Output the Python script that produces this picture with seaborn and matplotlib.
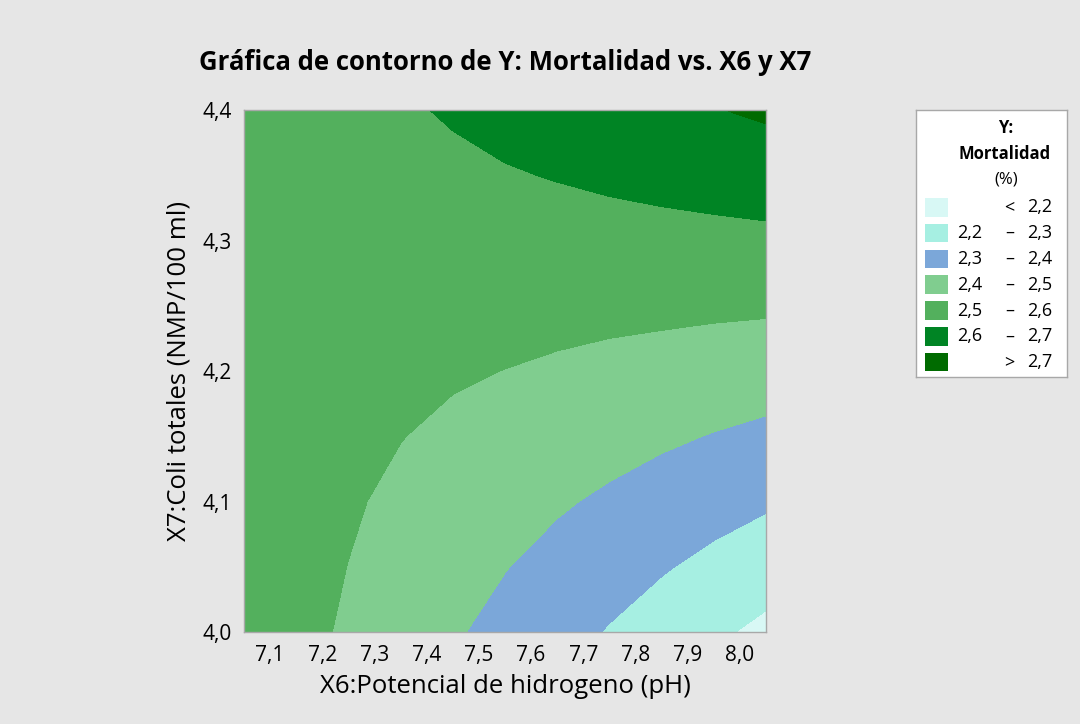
import numpy as np
import matplotlib
matplotlib.use("Agg")
import matplotlib.pyplot as plt
import seaborn as sns
from matplotlib.patches import Rectangle

# X6: pH grid, X7: coli totales grid
ph = [7.05, 7.15, 7.25, 7.35, 7.45, 7.55, 7.65, 7.75, 7.85, 7.95, 8.05]
coli = [4.00, 4.05, 4.10, 4.15, 4.20, 4.25, 4.30, 4.35, 4.40]

# mortalidad (%), one row per coli value
mortalidad = [
    [2.566, 2.527, 2.488, 2.449, 2.410, 2.372, 2.333, 2.294, 2.255, 2.216, 2.178],
    [2.562, 2.530, 2.499, 2.467, 2.435, 2.403, 2.372, 2.340, 2.308, 2.276, 2.245],
    [2.559, 2.534, 2.509, 2.484, 2.460, 2.435, 2.410, 2.386, 2.361, 2.336, 2.312],
    [2.555, 2.537, 2.520, 2.502, 2.484, 2.467, 2.449, 2.432, 2.414, 2.396, 2.379],
    [2.552, 2.541, 2.530, 2.520, 2.509, 2.499, 2.488, 2.477, 2.467, 2.456, 2.446],
    [2.548, 2.545, 2.541, 2.537, 2.534, 2.530, 2.527, 2.523, 2.520, 2.516, 2.513],
    [2.545, 2.548, 2.552, 2.555, 2.559, 2.562, 2.566, 2.569, 2.573, 2.576, 2.580],
    [2.541, 2.552, 2.562, 2.573, 2.583, 2.594, 2.604, 2.615, 2.625, 2.636, 2.647],
    [2.538, 2.555, 2.573, 2.590, 2.608, 2.626, 2.643, 2.661, 2.678, 2.696, 2.714],
]

levels = [2.0, 2.2, 2.3, 2.4, 2.5, 2.6, 2.7, 3.0]
colors = ["#D8F8F5", "#A6EFE2", "#7BA7D9", "#80CD8F", "#53B05D", "#008424", "#006B00"]
legend_lo = ["", "2,2", "2,3", "2,4", "2,5", "2,6", ""]
legend_sep = ["<", "\u2013", "\u2013", "\u2013", "\u2013", "\u2013", ">"]
legend_hi = ["2,2", "2,3", "2,4", "2,5", "2,6", "2,7", "2,7"]

xticks = [7.1, 7.2, 7.3, 7.4, 7.5, 7.6, 7.7, 7.8, 7.9, 8.0]
xticklabels = ["7,1", "7,2", "7,3", "7,4", "7,5", "7,6", "7,7", "7,8", "7,9", "8,0"]
yticks = [4.0, 4.1, 4.2, 4.3, 4.4]
yticklabels = ["4,0", "4,1", "4,2", "4,3", "4,4"]

sns.set_theme(style="white")
plt.rcParams["font.family"] = ["Open Sans", "DejaVu Sans"]
plt.rcParams["text.color"] = "black"
plt.rcParams["axes.labelcolor"] = "black"
plt.rcParams["xtick.labelcolor"] = "black"
plt.rcParams["ytick.labelcolor"] = "black"

fig = plt.figure(figsize=(10.8, 7.24), dpi=100, facecolor="#E6E6E6")
ax = fig.add_axes([244 / 1080, 1 - 632 / 724, 522 / 1080, 522 / 724])

X, Y = np.meshgrid(ph, coli)
ax.contourf(X, Y, np.array(mortalidad), levels=levels, colors=colors)

ax.set_xlim(7.05, 8.05)
ax.set_ylim(4.0, 4.4)
ax.set_xticks(xticks)
ax.set_xticklabels(xticklabels, fontsize=15)
ax.set_yticks(yticks)
ax.set_yticklabels(yticklabels, fontsize=15)
ax.tick_params(axis="both", direction="out", length=5, width=1, color="#9A9A9A", pad=4)
for s in ax.spines.values():
    s.set_color("#A8A8A8")
    s.set_linewidth(1)

ax.set_xlabel("X6:Potencial de hidrogeno (pH)", fontsize=18.5, labelpad=6)
ax.set_ylabel("X7:Coli totales (NMP/100 ml)", fontsize=18.5, labelpad=8)
fig.text(505 / 1080, 1 - 62 / 724, "Gráfica de contorno de Y: Mortalidad vs. X6 y X7",
         ha="center", va="center", fontsize=18.5, fontweight="bold")

# legend box drawn in pixel units relative to its top-left corner
bx, by, bw, bh = 915.7, 110, 151, 267
lax = fig.add_axes([bx / 1080, 1 - (by + bh) / 724, bw / 1080, bh / 724])
lax.set_xlim(0, bw)
lax.set_ylim(bh, 0)
lax.set_xticks([])
lax.set_yticks([])
lax.set_facecolor("white")
for s in lax.spines.values():
    s.set_color("#A8A8A8")
    s.set_linewidth(1)

lax.text(90, 18, "Y:", ha="center", va="center", fontsize=12, fontweight="bold")
lax.text(89, 44, "Mortalidad", ha="center", va="center", fontsize=12, fontweight="bold")
lax.text(90, 69, "(%)", ha="center", va="center", fontsize=12)

for i, c in enumerate(colors):
    yc = 97.3 + i * 25.8
    lax.add_patch(Rectangle((9.3, yc - 9.3), 23, 18.6, facecolor=c, edgecolor="none"))
    lax.text(53.6, yc, legend_lo[i], ha="center", va="center", fontsize=13)
    lax.text(94, yc, legend_sep[i], ha="center", va="center", fontsize=13)
    lax.text(123.6, yc, legend_hi[i], ha="center", va="center", fontsize=13)

fig.savefig("out.png", dpi=100, facecolor=fig.get_facecolor())
